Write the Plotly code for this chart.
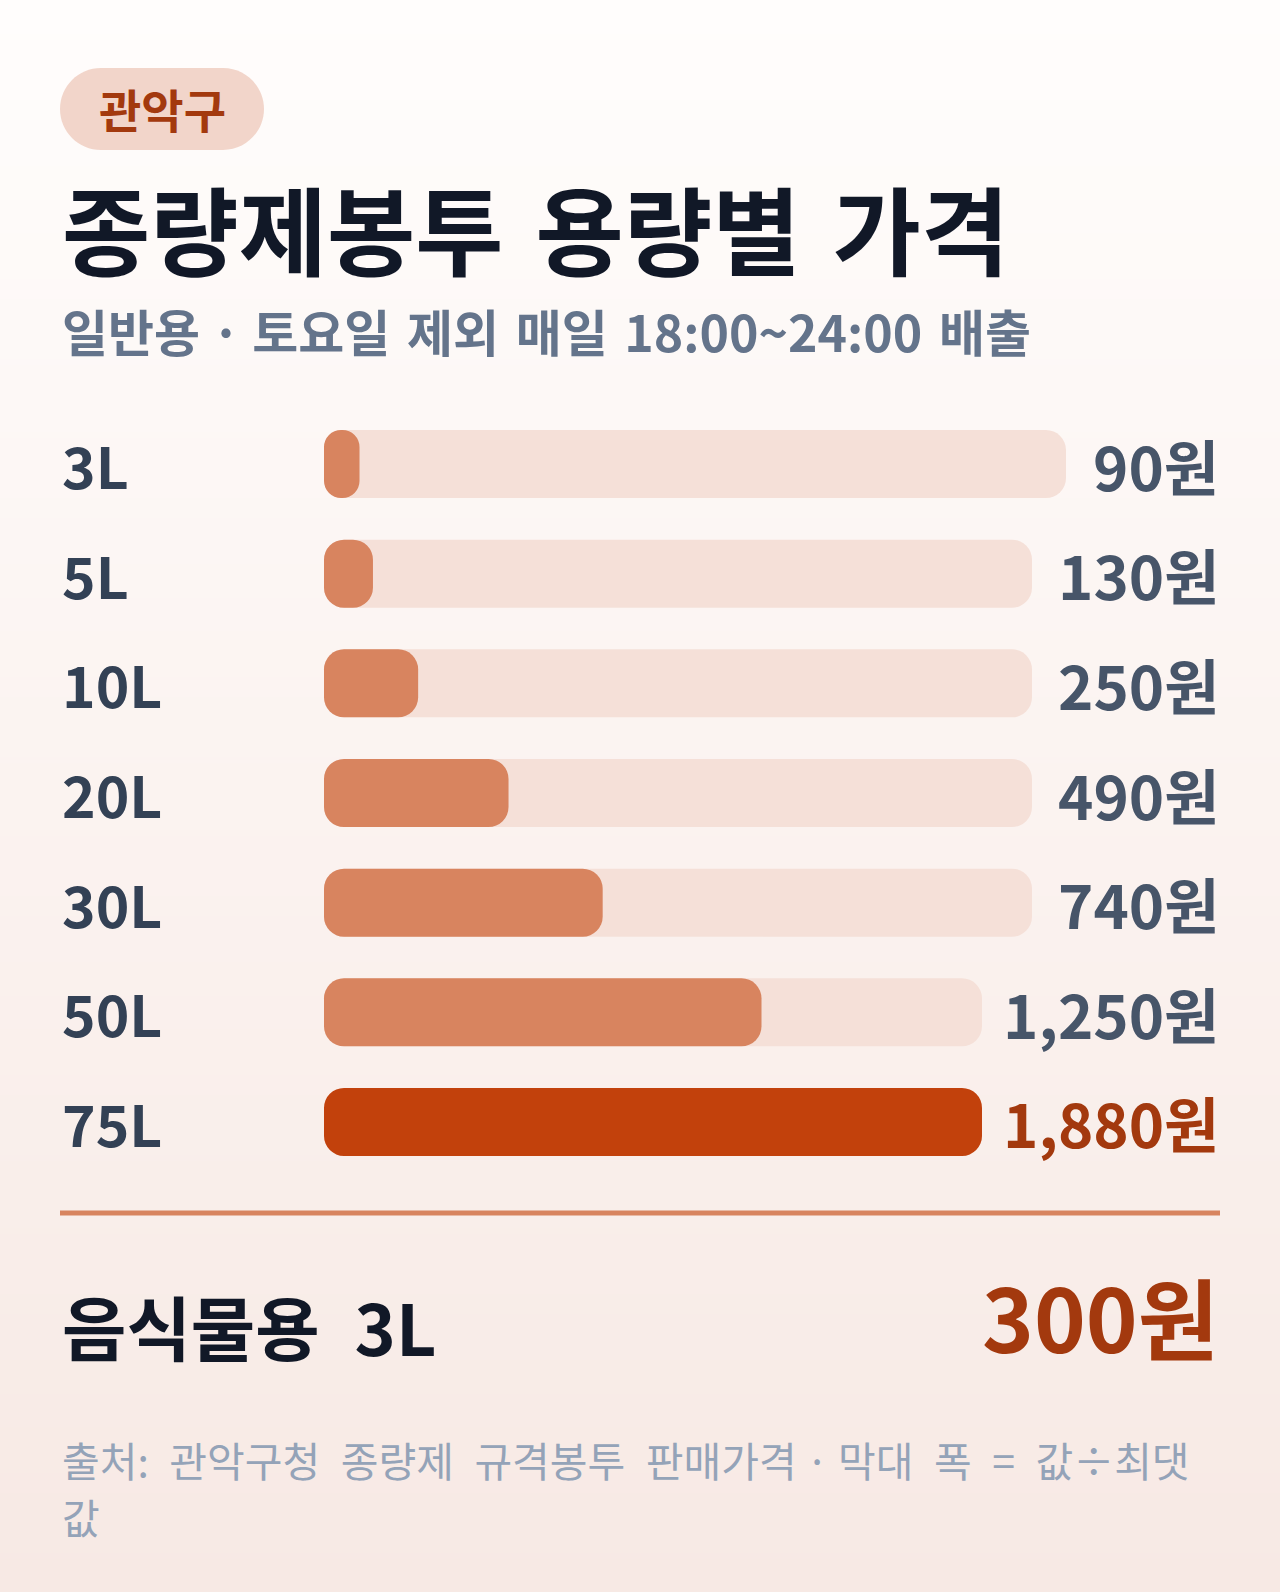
import plotly.graph_objects as go

W, H = 1280, 1592
FONT = "Noto Sans CJK KR"

# data
sizes = ["3L", "5L", "10L", "20L", "30L", "50L", "75L"]
prices = [90, 130, 250, 490, 740, 1250, 1880]
food_label = "음식물용 3L"
food_price = 300

badge_text = "관악구"
title_text = "종량제봉투 용량별 가격"
subtitle_text = "일반용 · 토요일 제외 매일 18:00~24:00 배출"
source_text = "출처: 관악구청 종량제 규격봉투 판매가격 · 막대 폭 = 값÷최댓값"

# colours
TRACK = "#f5e0d8"
FILL = "#d8845f"
MAX_FILL = "#c2410c"
ACCENT = "#a3390e"
INK = "#111827"

# layout constants (pixels)
LEFT, RIGHT = 60, 1220
TRACK_X0 = 324
GAP = 24

value_labels = [f"{p:,}원" for p in prices]


def label_width(s):
    # rough width of the bold 60px value label
    return sum(34 if c.isdigit() else 16 if c == "," else 62 for c in s)


def widen(s, space):
    # the reference uses noticeably wider word gaps (but not round the dot)
    s = s.replace(" · ", "\x00")
    return s.replace(" ", space).replace("\x00", " · ")


max_price = max(prices)
track_len = [RIGHT - GAP - label_width(s) - TRACK_X0 for s in value_labels]
fill_len = [p / max_price * t for p, t in zip(prices, track_len)]
fill_colors = [MAX_FILL if p == max_price else FILL for p in prices]

fig = go.Figure()

# page background gradient (pixel-space axes x/y)
fig.add_trace(go.Heatmap(
    x=[0, W], y=[0, H], z=[[0, 0], [1, 1]],
    colorscale=[[0, "#fffdfc"], [1, "#f7e9e4"]],
    zsmooth="best", showscale=False, hoverinfo="skip",
    xaxis="x", yaxis="y",
))

# bar tracks and fills
fig.add_trace(go.Bar(
    y=sizes, x=track_len, base=TRACK_X0, orientation="h",
    marker=dict(color=TRACK, cornerradius=20, line=dict(width=0)),
    width=0.62, hoverinfo="skip", xaxis="x2", yaxis="y2",
))
fig.add_trace(go.Bar(
    y=sizes, x=fill_len, base=TRACK_X0, orientation="h",
    marker=dict(color=fill_colors, cornerradius=20, line=dict(width=0)),
    width=0.62, customdata=prices,
    hovertemplate="%{y}: %{customdata:,}원<extra></extra>",
    xaxis="x2", yaxis="y2",
))

row_top, row_bottom = 409.2, 1176.8

fig.update_layout(
    width=W, height=H,
    margin=dict(l=0, r=0, t=0, b=0),
    paper_bgcolor="white",
    plot_bgcolor="rgba(0,0,0,0)",
    showlegend=False,
    barmode="overlay",
    font=dict(family=FONT),
    xaxis=dict(range=[0, W], domain=[0, 1], visible=False, fixedrange=True),
    yaxis=dict(range=[H, 0], domain=[0, 1], visible=False, fixedrange=True),
    xaxis2=dict(range=[0, W], domain=[0, 1], anchor="y2", visible=False, fixedrange=True),
    yaxis2=dict(
        domain=[1 - row_bottom / H, 1 - row_top / H], anchor="x2",
        categoryorder="array", categoryarray=sizes,
        range=[len(sizes) - 0.5, -0.5], visible=False, fixedrange=True,
    ),
)


def ann(text, x, y, size, color, xanchor="left", yref="y", bold=True):
    fig.add_annotation(
        text=f"<b>{text}</b>" if bold else text,
        x=x, y=y, xref="x", yref=yref,
        xanchor=xanchor, yanchor="middle", showarrow=False, align="left",
        font=dict(family=FONT, size=size, color=color),
    )


# badge pill (rounded ends via bezier)
bx0, bx1, by0, by1 = 60, 264, 68, 150
r = (by1 - by0) / 2
k = 0.5523 * r
pill = (
    f"M{bx0 + r},{by0} L{bx1 - r},{by0} "
    f"C{bx1 - r + k},{by0} {bx1},{by0 + r - k} {bx1},{by0 + r} "
    f"C{bx1},{by0 + r + k} {bx1 - r + k},{by1} {bx1 - r},{by1} "
    f"L{bx0 + r},{by1} "
    f"C{bx0 + r - k},{by1} {bx0},{by0 + r + k} {bx0},{by0 + r} "
    f"C{bx0},{by0 + r - k} {bx0 + r - k},{by0} {bx0 + r},{by0} Z"
)
fig.add_shape(type="path", path=pill, xref="x", yref="y",
              fillcolor="#f2d5ca", line=dict(width=0), layer="above")
ann(badge_text, (bx0 + bx1) / 2, 108, 46, ACCENT, xanchor="center")

ann(widen(title_text, "\u2004"), LEFT, 226, 96, INK)
ann(widen(subtitle_text, "\u2004"), LEFT, 330, 50, "#64748b")

# row labels and values
for s, v, p in zip(sizes, value_labels, prices):
    ann(s, LEFT, s, 57, "#334155", yref="y2")
    ann(v, RIGHT + 1, s, 60, ACCENT if p == max_price else "#475569",
        xanchor="right", yref="y2")

# divider
fig.add_shape(type="line", x0=LEFT, x1=RIGHT, y0=1213, y1=1213,
              xref="x", yref="y", line=dict(color=FILL, width=5), layer="above")

# food waste bag
ann(widen(food_label, "\u2002"), LEFT, 1325, 70, INK)
ann(f"{food_price:,}원", RIGHT + 1, 1314, 88, ACCENT, xanchor="right")

# source note (wraps before the last syllable like the reference)
note = widen(source_text, "\u2002")
ann(note[:-1], LEFT, 1459, 41, "#94a3b8", bold=False)
ann(note[-1], LEFT, 1516, 41, "#94a3b8", bold=False)

fig.write_html(
    "out.html",
    config={"displayModeBar": False},
    post_script="document.body.style.margin='0';document.body.style.overflow='hidden';",
)
